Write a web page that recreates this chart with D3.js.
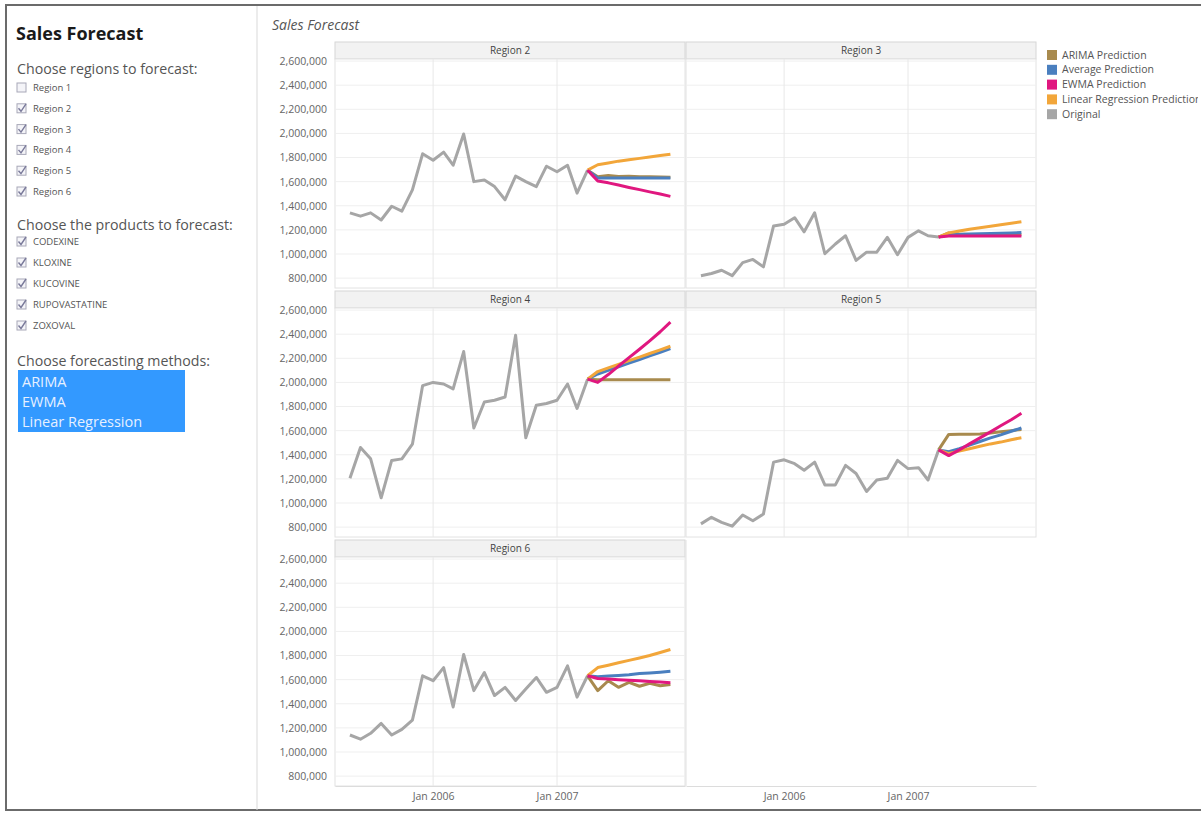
<!DOCTYPE html>
<html lang="en">
<head>
<meta charset="UTF-8">
<title>Sales Forecast</title>
<script src="https://cdn.jsdelivr.net/npm/d3@7/dist/d3.min.js"></script>
<style>
    body { margin: 0; background: #fff; }
    svg { display: block; font-family: "Open Sans", sans-serif; }
</style>
</head>
<body>
<svg id="dash" width="1201" height="813"></svg>
<script>
    // ---- data ----
    const originalMonths = ["2005-05","2005-06","2005-07","2005-08","2005-09","2005-10","2005-11","2005-12",
        "2006-01","2006-02","2006-03","2006-04","2006-05","2006-06","2006-07","2006-08","2006-09","2006-10",
        "2006-11","2006-12","2007-01","2007-02","2007-03","2007-04"];
    const forecastMonths = ["2007-04","2007-05","2007-06","2007-07","2007-08","2007-09","2007-10","2007-11","2007-12"];

    const region2Original = [1341000,1314000,1341000,1282000,1396000,1355000,1532000,1831000,1777000,1845000,1736000,1995000,
        1600000,1614000,1559000,1450000,1646000,1600000,1559000,1728000,1682000,1736000,1505000,1695000];
    const region2Arima  = [1695000,1640000,1650000,1642000,1645000,1640000,1640000,1638000,1636000];
    const region2Avg    = [1695000,1630000,1630000,1630000,1630000,1630000,1630000,1630000,1630000];
    const region2Ewma   = [1695000,1605000,1590000,1572000,1552000,1534000,1515000,1497000,1478000];
    const region2Linear = [1695000,1740000,1755000,1770000,1782000,1793000,1805000,1816000,1828000];

    const region3Original = [820000,838000,865000,820000,928000,955000,893000,1233000,1247000,1301000,1184000,1342000,
        1002000,1083000,1151000,947000,1015000,1015000,1138000,994000,1138000,1192000,1151000,1140000];
    const region3Arima  = [1140000,1175000,1165000,1162000,1160000,1160000,1160000,1160000,1160000];
    const region3Avg    = [1140000,1160000,1162000,1165000,1167000,1170000,1172000,1175000,1178000];
    const region3Ewma   = [1140000,1150000,1150000,1150000,1150000,1150000,1150000,1150000,1150000];
    const region3Linear = [1140000,1175000,1190000,1205000,1218000,1230000,1243000,1255000,1268000];

    const region4Original = [1205000,1460000,1366000,1043000,1353000,1366000,1488000,1973000,2000000,1987000,1946000,2256000,
        1622000,1838000,1852000,1879000,2391000,1541000,1811000,1825000,1852000,1987000,1784000,2027000];
    const region4Arima  = [2027000,2022000,2022000,2022000,2022000,2022000,2022000,2022000,2022000];
    const region4Avg    = [2027000,2070000,2100000,2130000,2160000,2190000,2220000,2250000,2280000];
    const region4Ewma   = [2027000,2000000,2065000,2135000,2205000,2275000,2345000,2420000,2500000];
    const region4Linear = [2027000,2090000,2120000,2150000,2180000,2210000,2240000,2270000,2300000];

    const region5Original = [827000,881000,840000,808000,900000,853000,908000,1339000,1358000,1326000,1272000,1339000,
        1150000,1150000,1312000,1245000,1096000,1191000,1205000,1353000,1285000,1293000,1191000,1440000];
    const region5Arima  = [1440000,1569000,1570000,1570000,1572000,1580000,1590000,1600000,1610000];
    const region5Avg    = [1440000,1425000,1450000,1480000,1510000,1540000,1565000,1595000,1622000];
    const region5Ewma   = [1440000,1393000,1440000,1490000,1540000,1590000,1640000,1690000,1744000];
    const region5Linear = [1440000,1410000,1430000,1450000,1470000,1490000,1505000,1525000,1541000];

    const region6Original = [1141000,1106000,1155000,1237000,1141000,1188000,1264000,1632000,1591000,1700000,1373000,1809000,
        1509000,1659000,1468000,1536000,1427000,1523000,1618000,1495000,1536000,1714000,1455000,1632000];
    const region6Arima  = [1632000,1509000,1591000,1536000,1577000,1545000,1570000,1550000,1560000];
    const region6Avg    = [1632000,1625000,1630000,1635000,1640000,1650000,1655000,1662000,1670000];
    const region6Ewma   = [1632000,1610000,1605000,1600000,1595000,1590000,1585000,1580000,1575000];
    const region6Linear = [1632000,1700000,1720000,1740000,1760000,1780000,1800000,1825000,1850000];

    const yTicks = [800000,1000000,1200000,1400000,1600000,1800000,2000000,2200000,2400000,2600000];
    const xTicks = ["2006-01","2007-01"];

    const seriesNames  = ["ARIMA Prediction","Average Prediction","EWMA Prediction","Linear Regression Prediction","Original"];
    const seriesColors = ["#a88a4e","#4a7fbf","#e0177f","#f2a63a","#a6a6a6"];

    const regionChoices  = ["Region 1","Region 2","Region 3","Region 4","Region 5","Region 6"];
    const regionChecked  = [false,true,true,true,true,true];
    const productChoices = ["CODEXINE","KLOXINE","KUCOVINE","RUPOVASTATINE","ZOXOVAL"];
    const methodChoices  = ["ARIMA","EWMA","Linear Regression"];

    // ---- build panel table ----
    let parseMonth = d3.timeParse("%Y-%m");
    let panels = [
        {name:"Region 2", original:region2Original, fc:[region2Arima,region2Avg,region2Linear,region2Ewma]},
        {name:"Region 3", original:region3Original, fc:[region3Arima,region3Avg,region3Linear,region3Ewma]},
        {name:"Region 4", original:region4Original, fc:[region4Arima,region4Avg,region4Linear,region4Ewma]},
        {name:"Region 5", original:region5Original, fc:[region5Arima,region5Avg,region5Linear,region5Ewma]},
        {name:"Region 6", original:region6Original, fc:[region6Arima,region6Avg,region6Linear,region6Ewma]}
    ];
    // forecast draw order: ARIMA, Average, Linear, EWMA (EWMA on top)
    let fcColors = [seriesColors[0], seriesColors[1], seriesColors[3], seriesColors[2]];

    let svg = d3.select('svg#dash');

    // outer frame + dividers
    svg.append('rect').attr('x', 6).attr('y', 5).attr('width', 1200).attr('height', 805)
        .attr('fill', 'none').attr('stroke', '#6b6b6b').attr('stroke-width', 2);
    svg.append('line').attr('x1', 257).attr('x2', 257).attr('y1', 6).attr('y2', 810)
        .attr('stroke', '#d9d9d9');

    // ---- sidebar ----
    let side = svg.append('g');
    side.append('text').attr('x', 16).attr('y', 40).text('Sales Forecast')
        .attr('font-size', 18).attr('font-weight', 'bold').attr('fill', '#1a1a1a');

    function heading(label, y) {
        side.append('text').attr('x', 17).attr('y', y).text(label)
            .attr('font-size', 14.2).attr('fill', '#555');
    }
    function checklist(items, checked, y0, step) {
        let g = side.selectAll(null).data(items).enter().append('g')
            .attr('transform', function(d, i){ return 'translate(17,' + (y0 + i * step) + ')'; });
        g.append('rect').attr('x', 0).attr('y', -5).attr('width', 9).attr('height', 9)
            .attr('fill', '#f4f4f8').attr('stroke', '#a8a8b8');
        g.filter(function(d, i){ return checked[i]; }).append('path')
            .attr('d', 'M1.5,-0.5 L4,2.5 L9,-5')
            .attr('fill', 'none').attr('stroke', '#7a7a9a').attr('stroke-width', 1.4);
        g.append('text').attr('x', 16).attr('y', 3).text(function(d){ return d; })
            .attr('font-size', 9.5).attr('fill', '#555');
    }

    heading('Choose regions to forecast:', 74);
    checklist(regionChoices, regionChecked, 88, 20.8);
    heading('Choose the products to forecast:', 230);
    checklist(productChoices, productChoices.map(function(){ return true; }), 242, 21);
    heading('Choose forecasting methods:', 366);
    side.append('rect').attr('x', 18).attr('y', 370).attr('width', 167).attr('height', 62).attr('fill', '#3399ff');
    side.selectAll(null).data(methodChoices).enter().append('text')
        .attr('x', 22).attr('y', function(d, i){ return 387 + i * 20; })
        .text(function(d){ return d; })
        .attr('font-size', 14.5).attr('fill', '#e6f0ff');

    // ---- chart area ----
    svg.append('text').attr('x', 272).attr('y', 30).text('Sales Forecast')
        .attr('font-size', 14).attr('font-style', 'italic').attr('fill', '#555');

    let colX = [335, 686], colW = 350;
    let rowTop = [42, 291, 540], headerH = 17, plotH = 229;

    let x = d3.scaleTime()
        .domain([new Date(2005, 2, 18), new Date(2008, 0, 13)])
        .range([0, colW]);
    let y = d3.scaleLinear().domain([718000, 2617000]).range([plotH, 0]);

    let line = d3.line()
        .x(function(d){ return x(d.date); })
        .y(function(d){ return y(d.value); });

    function pair(months, values) {
        return values.map(function(v, i){ return {date: parseMonth(months[i]), value: v}; });
    }

    // y axis labels for each row
    rowTop.forEach(function(t){
        let ax = svg.append('g').attr('transform', 'translate(' + colX[0] + ',' + (t + headerH) + ')')
            .call(d3.axisLeft(y).tickValues(yTicks).tickFormat(d3.format(',')).tickSize(0).tickPadding(8));
        ax.select('.domain').remove();
        ax.selectAll('text').attr('font-size', 10.5).attr('fill', '#666').attr('font-family', '"Open Sans", sans-serif');
    });

    panels.forEach(function(p, i){
        let col = i % 2, row = Math.floor(i / 2);
        let g = svg.append('g').attr('transform', 'translate(' + colX[col] + ',' + rowTop[row] + ')');

        // header band
        g.append('rect').attr('x', 0).attr('y', 0).attr('width', colW).attr('height', headerH)
            .attr('fill', '#f2f2f2').attr('stroke', '#d6d6d6');
        g.append('text').attr('x', colW / 2).attr('y', headerH / 2 + 3.5).attr('text-anchor', 'middle')
            .text(p.name).attr('font-size', 10).attr('fill', '#444');

        let plot = g.append('g').attr('transform', 'translate(0,' + headerH + ')');
        plot.append('rect').attr('width', colW).attr('height', plotH)
            .attr('fill', '#fff').attr('stroke', '#e2e2e2');

        // gridlines
        plot.selectAll('line.hg').data(yTicks).enter().append('line')
            .attr('x1', 0).attr('x2', colW)
            .attr('y1', function(d){ return y(d); }).attr('y2', function(d){ return y(d); })
            .attr('stroke', '#efefef');
        plot.selectAll('line.vg').data(xTicks).enter().append('line')
            .attr('x1', function(d){ return x(parseMonth(d)); }).attr('x2', function(d){ return x(parseMonth(d)); })
            .attr('y1', 0).attr('y2', plotH)
            .attr('stroke', '#e8e8e8');

        plot.append('path').datum(pair(originalMonths, p.original))
            .attr('d', line).attr('fill', 'none')
            .attr('stroke', seriesColors[4]).attr('stroke-width', 3).attr('stroke-linejoin', 'round');

        plot.selectAll('path.fc').data(p.fc).enter().append('path')
            .attr('class', 'fc')
            .attr('d', function(d){ return line(pair(forecastMonths, d)); })
            .attr('fill', 'none')
            .attr('stroke', function(d, k){ return fcColors[k]; })
            .attr('stroke-width', 3).attr('stroke-linejoin', 'round');
    });

    // empty sixth cell border
    svg.append('line').attr('x1', colX[1]).attr('x2', colX[1])
        .attr('y1', rowTop[2]).attr('y2', rowTop[2] + headerH + plotH).attr('stroke', '#e2e2e2');

    // x axes under the bottom row
    colX.forEach(function(cx){
        let ax = svg.append('g').attr('transform', 'translate(' + cx + ',' + (rowTop[2] + headerH + plotH) + ')')
            .call(d3.axisBottom(x).tickValues(xTicks.map(parseMonth))
                .tickFormat(d3.timeFormat('%b %Y')).tickSize(0).tickPadding(7));
        ax.select('.domain').attr('stroke', '#dcdcdc');
        ax.selectAll('text').attr('font-size', 10.5).attr('fill', '#666').attr('font-family', '"Open Sans", sans-serif');
    });

    // legend
    svg.append('clipPath').attr('id', 'legclip').append('rect')
        .attr('x', 1040).attr('y', 40).attr('width', 158).attr('height', 90);
    let leg = svg.append('g').attr('clip-path', 'url(#legclip)')
        .selectAll('g').data(seriesNames).enter().append('g')
        .attr('transform', function(d, i){ return 'translate(1047,' + (55 + i * 14.8) + ')'; });
    leg.append('rect').attr('x', 0).attr('y', -5).attr('width', 10).attr('height', 10)
        .attr('fill', function(d, i){ return seriesColors[i]; });
    leg.append('text').attr('x', 15).attr('y', 3.5).text(function(d){ return d; })
        .attr('font-size', 10.5).attr('fill', '#555');
</script>
</body>
</html>
